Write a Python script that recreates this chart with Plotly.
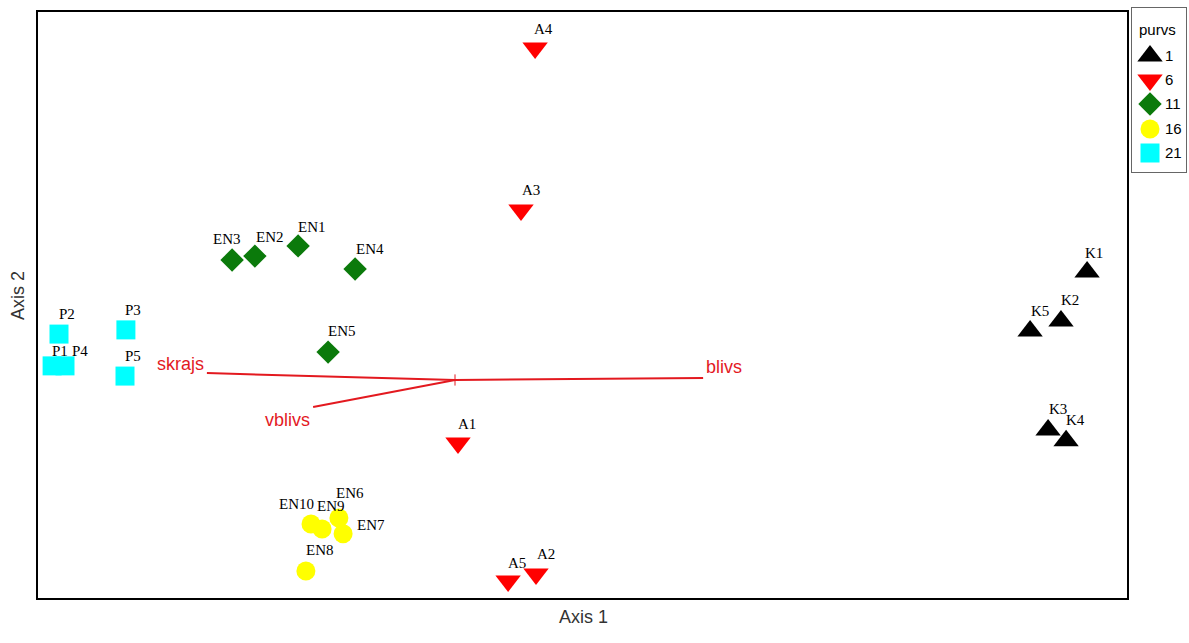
import plotly.graph_objects as go

# ---- data (ordination scores, arbitrary units) ----
groups = ["1", "6", "11", "16", "21"]

k_names = ["K1", "K2", "K3", "K4", "K5"]
k_x = [2.107, 2.02, 1.977, 2.037, 1.917]
k_y = [0.36, 0.197, -0.167, -0.203, 0.163]

a_names = ["A1", "A2", "A3", "A4", "A5"]
a_x = [0.01, 0.27, 0.22, 0.267, 0.177]
a_y = [-0.21, -0.647, 0.567, 1.107, -0.67]

en1_names = ["EN1", "EN2", "EN3", "EN4", "EN5"]
en1_x = [-0.523, -0.667, -0.743, -0.333, -0.423]
en1_y = [0.447, 0.413, 0.40, 0.37, 0.093]

en2_names = ["EN6", "EN7", "EN8", "EN9", "EN10"]
en2_x = [-0.387, -0.373, -0.497, -0.443, -0.48]
en2_y = [-0.46, -0.513, -0.637, -0.497, -0.48]

p_names = ["P1", "P2", "P3", "P4", "P5"]
p_x = [-1.343, -1.32, -1.097, -1.30, -1.10]
p_y = [0.047, 0.153, 0.167, 0.047, 0.013]

vec_names = ["skrajs", "blivs", "vblivs"]
vec_x = [-0.827, 0.827, -0.473]
vec_y = [0.023, 0.007, -0.09]

legend_title = "purvs"

# ---- styles ----
label_shift = {
    "K1": (7, 19), "K2": (9, 21), "K3": (10, 21), "K4": (9, 21), "K5": (10, 20),
    "A1": (9, 19), "A2": (10, 20), "A3": (10, 20), "A4": (8, 19), "A5": (9, 18),
    "EN1": (14, 19), "EN2": (15, 19), "EN3": (-5, 21), "EN4": (15, 20), "EN5": (14, 21),
    "EN6": (11, 25), "EN7": (28, 9), "EN8": (14, 21), "EN9": (9, 23), "EN10": (-15, 20),
    "P1": (8, 15), "P2": (8, 20), "P3": (7, 20), "P4": (15, 15), "P5": (8, 20),
}
series = [
    (groups[0], k_names, k_x, k_y, "triangle-up", "#000000", 22),
    (groups[1], a_names, a_x, a_y, "triangle-down", "#ff0000", 22),
    (groups[2], en1_names, en1_x, en1_y, "diamond", "#0b7a0b", 18),
    (groups[3], en2_names, en2_x, en2_y, "circle", "#ffff00", 19),
    (groups[4], p_names, p_x, p_y, "square", "#00ffff", 19),
]
vec_anchor = {"skrajs": ("right", -1, 9), "blivs": ("left", 1, 11), "vblivs": ("right", -1, -13)}
RED = "#e3191f"
SANS = "Liberation Sans, Arial"
SERIF = "Liberation Serif, Times New Roman"

# legend panel layout (panel units = pixels inside the legend box)
LEG_MARK_X, LEG_TEXT_X, LEG_TITLE_Y = 18, 31, 22
LEG_ROW_Y = [48, 72, 96, 121, 145]

fig = go.Figure()
annotations = []

for nm, x0, y0 in zip(vec_names, vec_x, vec_y):
    fig.add_trace(go.Scatter(x=[0, x0], y=[0, y0], mode="lines",
                             line=dict(color=RED, width=2), showlegend=False,
                             hoverinfo="skip"))
    xa, xs, ys = vec_anchor[nm]
    annotations.append(dict(x=x0, y=y0, text=nm, showarrow=False, xanchor=xa,
                            xshift=xs, yshift=ys,
                            font=dict(family=SANS, size=18, color=RED)))
# small centre tick of the biplot
fig.add_trace(go.Scatter(x=[0], y=[0], mode="markers", showlegend=False, hoverinfo="skip",
                         marker=dict(symbol="line-ns", size=8,
                                     line=dict(color=RED, width=1))))

for grp, names, xs_, ys_, sym, col, sz in series:
    fig.add_trace(go.Scatter(x=xs_, y=ys_, mode="markers", name=grp, showlegend=False,
                             marker=dict(symbol=sym, color=col, size=sz,
                                         line=dict(width=0))))
    for n, xv, yv in zip(names, xs_, ys_):
        dx, dy = label_shift[n]
        annotations.append(dict(x=xv, y=yv, text=n, showarrow=False,
                                xshift=dx, yshift=dy,
                                font=dict(family=SERIF, size=15, color="#000000")))

# custom legend panel
for (grp, names, xs_, ys_, sym, col, sz), ry in zip(series, LEG_ROW_Y):
    fig.add_trace(go.Scatter(x=[LEG_MARK_X], y=[ry], mode="markers", xaxis="x2", yaxis="y2",
                             showlegend=False, hoverinfo="skip",
                             marker=dict(symbol=sym, color=col, size=sz, line=dict(width=0))))
    annotations.append(dict(x=LEG_TEXT_X, y=ry, xref="x2", yref="y2", text=grp,
                            showarrow=False, xanchor="left",
                            font=dict(family=SANS, size=15, color="#000000")))
annotations.append(dict(x=5, y=LEG_TITLE_Y, xref="x2", yref="y2", text=legend_title,
                        showarrow=False, xanchor="left",
                        font=dict(family=SANS, size=15, color="#000000")))

annotations.append(dict(x=0.49033, y=0.04044, xref="paper", yref="paper", text="Axis 1",
                        showarrow=False, yanchor="middle",
                        font=dict(family=SANS, size=18, color="#333333")))
annotations.append(dict(x=0.01514, y=0.53966, xref="paper", yref="paper", text="Axis 2",
                        showarrow=False, textangle=-90, xanchor="center", yanchor="middle",
                        font=dict(family=SANS, size=18, color="#333333")))

fig.update_layout(
    width=1189, height=643,
    margin=dict(l=0, r=0, t=0, b=0),
    paper_bgcolor="white", plot_bgcolor="white",
    annotations=annotations,
    showlegend=False,
    hovermode=False,
    xaxis=dict(domain=[0.03196, 0.94785], range=[-1.39, 2.24], showgrid=False,
               zeroline=False, showticklabels=False, ticks="", showline=True, mirror=True,
               linecolor="black", linewidth=2),
    yaxis=dict(domain=[0.06998, 0.98134], range=[-0.727, 1.227], showgrid=False,
               zeroline=False, showticklabels=False, ticks="", showline=True, mirror=True,
               linecolor="black", linewidth=2),
    xaxis2=dict(domain=[0.95206, 0.99748], range=[0, 54], anchor="y2", showgrid=False,
                zeroline=False, showticklabels=False, ticks="", showline=True, mirror=True,
                linecolor="#666666", linewidth=1, fixedrange=True),
    yaxis2=dict(domain=[0.73250, 0.98756], range=[164, 0], anchor="x2", showgrid=False,
                zeroline=False, showticklabels=False, ticks="", showline=True, mirror=True,
                linecolor="#666666", linewidth=1, fixedrange=True),
)

fig.write_html(
    "out.html",
    config={"displayModeBar": False},
    post_script="document.body.style.margin='0';"
                "document.documentElement.style.overflow='hidden';",
)
